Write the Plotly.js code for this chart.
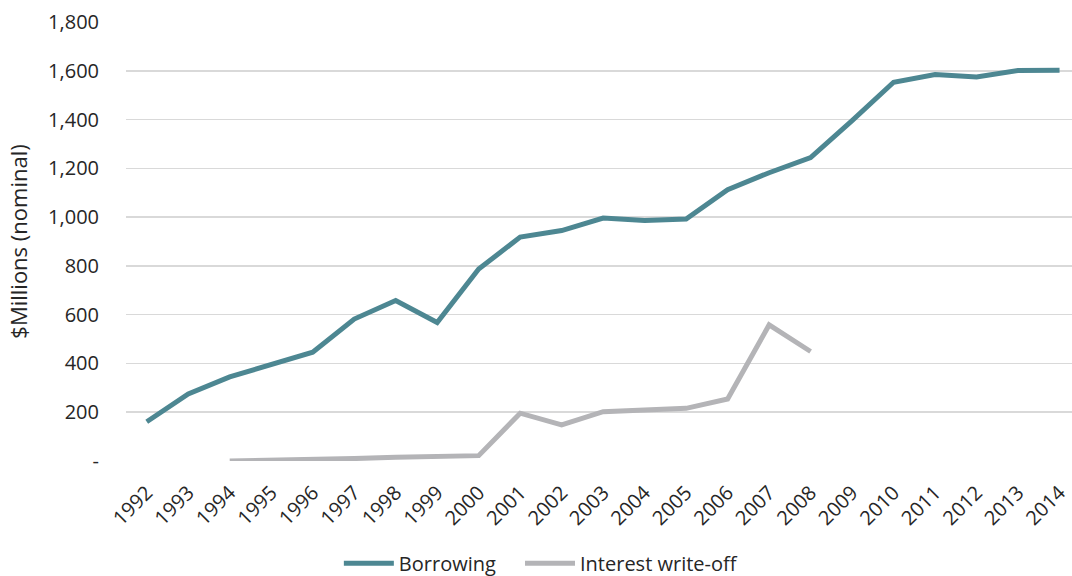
<!DOCTYPE html>
<html>
<head>
<meta charset="utf-8">
<script src="https://cdn.plot.ly/plotly-3.0.1.min.js"></script>
<style>html,body{margin:0;padding:0;background:#fff;}#chart{width:1072px;height:576px;}</style>
</head>
<body>
<div id="chart"></div>
<script>
const years = ["1992","1993","1994","1995","1996","1997","1998","1999","2000","2001","2002","2003","2004","2005","2006","2007","2008","2009","2010","2011","2012","2013","2014"];
const borrowing = [161,275,345,398,446,582,658,568,787,918,945,996,986,992,1112,1182,1244,1396,1553,1585,1575,1601,1602];
const writeOffYears = ["1994","1995","1996","1997","1998","1999","2000","2001","2002","2003","2004","2005","2006","2007","2008"];
const writeOff = [0,2,5,10,15,19,22,196,148,202,208,216,254,558,449];
const yTickVals = [0,200,400,600,800,1000,1200,1400,1600,1800];
const yTickText = ["-","200","400","600","800","1,000","1,200","1,400","1,600","1,800"];

const font = "Open Sans, Noto Sans, sans-serif";
const txt = "#262626";
const data = [
  {x: years, y: borrowing, type: "scatter", mode: "lines", name: "Borrowing",
   line: {color: "#4d8792", width: 5}, legend: "legend"},
  {x: writeOffYears, y: writeOff, type: "scatter", mode: "lines", name: "Interest write-off",
   line: {color: "#b4b4b7", width: 5}, legend: "legend2"}
];
const legendBase = {orientation: "h", yanchor: "middle", y: -0.233, xanchor: "left",
                    font: {size: 20, color: txt}, itemwidth: 50, bgcolor: "rgba(0,0,0,0)"};
const layout = {
  width: 1072, height: 576,
  margin: {l: 126, r: 0, t: 22, b: 115, autoexpand: false},
  paper_bgcolor: "#fff", plot_bgcolor: "#fff",
  font: {family: font, color: txt, size: 20},
  showlegend: true,
  legend: Object.assign({}, legendBase, {x: 0.225}),
  legend2: Object.assign({}, legendBase, {x: 0.4165}),
  xaxis: {type: "category", categoryorder: "array", categoryarray: years,
          range: [-0.5, 22.3], tickangle: -45, showgrid: false, zeroline: false,
          showline: false, ticks: "", ticklabelstandoff: 15, automargin: false,
          tickfont: {size: 20, color: txt}, fixedrange: true},
  yaxis: {range: [0, 1800], tickvals: yTickVals, ticktext: yTickText,
          showgrid: true, gridcolor: "#d9d9d9", gridwidth: 1.5, zeroline: false,
          showline: false, ticks: "", ticklabelstandoff: 26, automargin: false,
          tickfont: {size: 20, color: txt},
          title: {text: "$Millions (nominal)", font: {size: 22, color: txt}, standoff: 14},
          fixedrange: true}
};
Plotly.newPlot("chart", data, layout, {displayModeBar: false, staticPlot: true});
</script>
</body>
</html>
